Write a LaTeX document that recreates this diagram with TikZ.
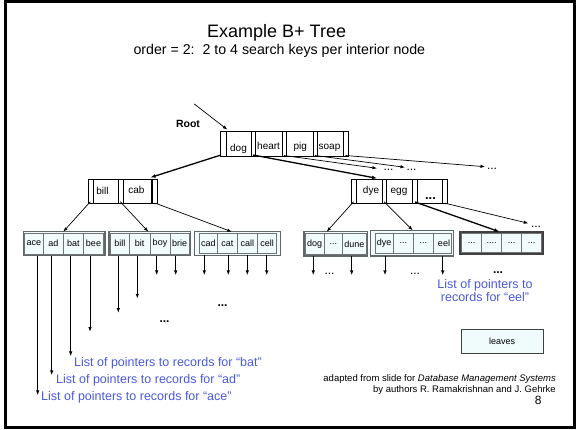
\documentclass[tikz,border=0pt]{standalone}
\usepackage{fontspec}
\setmainfont{Liberation Sans}
\usetikzlibrary{arrows.meta}

\definecolor{leaffill}{RGB}{240,252,252}
\definecolor{leafedge}{RGB}{96,104,104}
\definecolor{noteblue}{RGB}{74,88,222}

% font size in points (1pt = one unit of the picture)
\newcommand{\pxsize}[1]{\fontsize{#1}{#1}\selectfont}

% a rectangle node given by its corners: style, name, x1, y1, x2, y2, text
\newcommand{\cornerbox}[7]{%
  \node[#1, minimum width={#5-#3}, minimum height={#6-#4}] (#2)
    at ({(#3+#5)/2},{(#4+#6)/2}) {#7};}

\tikzset{
  frameline/.style={draw, line width=2.4pt},
  inner/.style={draw, line width=0.6pt, inner sep=0pt, outer sep=0pt},
  keybox/.style={draw, line width=0.6pt, inner sep=0pt, outer sep=0pt},
  keytext/.style={inner sep=0pt, anchor=base, font=\pxsize{10}},
  leafframe/.style={draw=leafedge, line width=1.3pt, fill=leaffill, inner sep=0pt, outer sep=0pt},
  leafframedark/.style={draw=black!75, line width=2pt, fill=leaffill, inner sep=0pt, outer sep=0pt},
  leafcell/.style={draw=black!55, line width=0.6pt, fill=leaffill, inner sep=0pt, outer sep=0pt, font=\pxsize{9}},
  ptr/.style={-{Latex[length=4.5pt,width=3.4pt]}, line width=0.7pt},
  thickptr/.style={-{Latex[length=5pt,width=3.8pt]}, line width=1.3pt},
  dots/.style={inner sep=0pt, anchor=base, font=\pxsize{12}},
  bolddots/.style={inner sep=0pt, anchor=base, font=\bfseries\pxsize{12}},
  note/.style={inner sep=0pt, anchor=base west, text=noteblue, font=\pxsize{12.5}},
}

\begin{document}
\begin{tikzpicture}[x=1pt, y=-1pt]
\useasboundingbox (0,0) rectangle (576,430);
\draw[frameline] (5.3,1.5) rectangle (574.6,427.6);

% titles
\node[inner sep=0pt, anchor=base west, font=\pxsize{18}] (title) at (207,37.7) {Example B+ Tree};
\node[inner sep=0pt, anchor=base west, font=\pxsize{14.2}] (subtitle) at (133.3,55)
  {order = 2:\ \ 2 to 4 search keys per interior node};

% root node
\node[inner sep=0pt, anchor=base, font=\bfseries\pxsize{10.5}] (rootlabel) at (188,128) {Root};
\cornerbox{inner}{root}{220.7}{131.7}{348}{156.7}{}
\cornerbox{keybox}{kdog}{226}{131.7}{251}{156.7}{}
\cornerbox{keybox}{kheart}{255}{131.7}{282}{156.7}{}
\cornerbox{keybox}{kpig}{286}{131.7}{313}{156.7}{}
\cornerbox{keybox}{ksoap}{317}{131.7}{343}{156.7}{}
\node[keytext] (tdog) at (238.5,151.5) {dog};
\node[keytext] (theart) at (268.6,150) {heart};
\node[keytext] (tpig) at (300.3,150) {pig};
\node[keytext] (tsoap) at (329.5,150) {soap};

% interior node bill | cab
\cornerbox{inner}{nbill}{88.3}{179}{157}{203}{}
\cornerbox{keybox}{kbill}{93}{179}{118}{203}{}
\cornerbox{keybox}{kcab}{123}{179}{152}{203}{}
\draw[line width=1.2pt] (kcab.north east) -- (kcab.south east);
\node[keytext] (tbill) at (102.5,195) {bill};
\node[keytext] (tcab) at (136.5,193.5) {cab};

% interior node dye | egg | ...
\cornerbox{inner}{ndye}{351.7}{179.3}{447.3}{203.3}{}
\cornerbox{keybox}{kdye}{356.7}{179.3}{382.7}{203.3}{}
\cornerbox{keybox}{kegg}{386.7}{179.3}{412.7}{203.3}{}
\cornerbox{keybox}{kmore}{417.3}{179.3}{442.7}{203.3}{}
\node[keytext] (tdye) at (371,193.5) {dye};
\node[keytext] (tegg) at (399,194) {egg};
\node[inner sep=0pt, anchor=base, font=\bfseries\pxsize{13}] (tmore) at (430.5,200) {...};

% leaves
\cornerbox{leafframe}{leafA}{23.3}{231.7}{105}{255.7}{}
\cornerbox{leafcell}{lace}{24.6}{232.9}{43.3}{254.3}{ace}
\cornerbox{leafcell}{lad}{43.3}{232.9}{63.3}{254.3}{ad}
\cornerbox{leafcell}{lbat}{63.3}{232.9}{83.3}{254.3}{bat}
\cornerbox{leafcell}{lbee}{83.3}{232.9}{103.7}{254.3}{bee}

\cornerbox{leafframe}{leafB}{109}{231.7}{190.7}{255.7}{}
\cornerbox{leafcell}{lbill}{110.3}{232.9}{129.3}{254.3}{bill}
\cornerbox{leafcell}{lbit}{129.3}{232.9}{150}{254.3}{bit}
\cornerbox{leafcell}{lboy}{150}{232.9}{170}{254.3}{boy}
\cornerbox{leafcell}{lbrie}{170}{232.9}{189.4}{254.3}{brie}

\cornerbox{leafframe}{leafC}{194.8}{231.7}{280.6}{255.3}{}
\cornerbox{leafcell}{lcad}{199.3}{233}{217.3}{253.8}{cad}
\cornerbox{leafcell}{lcat}{217.3}{233}{237.3}{253.8}{cat}
\cornerbox{leafcell}{lcall}{237.3}{233}{257.3}{253.8}{call}
\cornerbox{leafcell}{lcell}{257.3}{233}{276.7}{253.8}{cell}

\cornerbox{leafframe}{leafD}{304}{231.7}{367.3}{256}{}
\cornerbox{leafcell}{ldog}{305.3}{233}{324}{254.6}{dog}
\cornerbox{leafcell}{ldmid}{324}{233}{342.7}{254.6}{...}
\cornerbox{leafcell}{ldune}{342.7}{233}{366}{254.6}{dune}

\cornerbox{leafframe}{leafE}{370.7}{230.3}{453.3}{256}{}
\cornerbox{leafcell}{ldye}{375}{233.3}{393.3}{253.3}{\raisebox{2.5pt}{dye}}
\cornerbox{leafcell}{lemidA}{393.3}{233.3}{413.3}{253.3}{...}
\cornerbox{leafcell}{lemidB}{413.3}{233.3}{433.3}{253.3}{...}
\cornerbox{leafcell}{leel}{433.3}{233.3}{451.7}{253.3}{\hspace{3pt}eel}

\cornerbox{leafframedark}{leafF}{460.3}{231.7}{543}{254}{}
\cornerbox{leafcell}{lfA}{461.7}{232.9}{481.7}{252.8}{...}
\cornerbox{leafcell}{lfB}{481.7}{232.9}{501.7}{252.8}{....}
\cornerbox{leafcell}{lfC}{501.7}{232.9}{521.7}{252.8}{...}
\cornerbox{leafcell}{lfD}{521.7}{232.9}{541.7}{252.8}{...}

% pointer into the root
\coordinate (rootfrom) at (194.3,104);
\coordinate (rootto) at (227.3,129.6);
\draw[ptr] (rootfrom) -- (rootto);

% root slots to children
\coordinate (rs0) at (221,155);
\coordinate (rs1) at (253,155);
\coordinate (rs2) at (284,155.5);
\coordinate (rs3) at (315,155.5);
\coordinate (rs4) at (345.5,155.5);
\coordinate (tobill) at (150.5,177.5);
\coordinate (todye) at (377,178.3);
\coordinate (farA) at (377,168.3);
\coordinate (farB) at (405,167.3);
\coordinate (farC) at (485,166.7);
\draw[thickptr] (rs0) -- (tobill);
\draw[thickptr] (rs1) -- (todye);
\draw[ptr] (rs2) -- (farA);
\draw[ptr] (rs3) -- (farB);
\draw[ptr] (rs4) -- (farC);
\node[dots] (dA) at (388.5,171) {...};
\node[dots] (dB) at (411.5,171) {...};
\node[dots] (dC) at (492,170) {...};

% bill | cab to leaves
\coordinate (bs0) at (90.3,201.7);
\coordinate (bs1) at (120.3,201.7);
\coordinate (bs2) at (156.2,203.5);
\draw[ptr] (bs0) -- (leafA.north -| 63.3,0);
\draw[ptr] (bs1) -- (leafB.north -| 148.3,0);
\draw[ptr] (bs2) -- (leafC.north -| 231.7,0);

% dye | egg | ... to leaves
\coordinate (ds0) at (353.6,201.7);
\coordinate (ds1) at (384,201.7);
\coordinate (ds2) at (415,202);
\coordinate (ds3) at (446.3,203.5);
\coordinate (dfar) at (528.3,223.3);
\draw[ptr] (ds0) -- (leafD.north -| 326.7,0);
\draw[ptr] (ds1) -- (leafE.north -| 412.7,0);
\draw[thickptr] (ds2) -- (leafF.north -| 499.3,0);
\draw[ptr] (ds3) -- (dfar);
\node[dots] (dD) at (536,228) {...};

% record pointers out of the leaves
\coordinate (pace) at (37.7,395);
\coordinate (pad) at (51.7,375);
\coordinate (pbat) at (70.7,356);
\coordinate (pbee) at (90,331.7);
\draw[ptr] (leafA.south -| pace) -- (pace);
\draw[ptr] (leafA.south -| pad) -- (pad);
\draw[ptr] (leafA.south -| pbat) -- (pbat);
\draw[ptr] (leafA.south -| pbee) -- (pbee);

\coordinate (pbill) at (118.3,312.7);
\coordinate (pbit) at (137.3,298.3);
\coordinate (pboy) at (156.7,275);
\coordinate (pbrie) at (175.7,275);
\draw[ptr] (leafB.south -| pbill) -- (pbill);
\draw[ptr] (leafB.south -| pbit) -- (pbit);
\draw[ptr] (leafB.south -| pboy) -- (pboy);
\draw[ptr] (leafB.south -| pbrie) -- (pbrie);

\coordinate (pcad) at (204.3,275);
\coordinate (pcat) at (228.3,275);
\coordinate (pcall) at (247.3,275);
\coordinate (pcell) at (266.7,275);
\draw[ptr] (leafC.south -| pcad) -- (pcad);
\draw[ptr] (leafC.south -| pcat) -- (pcat);
\draw[ptr] (leafC.south -| pcall) -- (pcall);
\draw[ptr] (leafC.south -| pcell) -- (pcell);

\coordinate (pdog) at (313.3,275);
\coordinate (pdune) at (351.7,275);
\coordinate (pdye) at (385,275);
\coordinate (peel) at (442.7,275);
\draw[ptr] (leafD.south -| pdog) -- (pdog);
\draw[ptr] (leafD.south -| pdune) -- (pdune);
\draw[ptr] (leafE.south -| pdye) -- (pdye);
\draw[ptr] (leafE.south -| peel) -- (peel);

\node[dots] (dE) at (329.5,275) {...};
\node[dots] (dF) at (415,275) {...};
\node[bolddots] (dG) at (498,274) {...};
\node[bolddots] (dH) at (222.5,307) {...};
\node[bolddots] (dI) at (164.5,323) {...};

% notes on the record lists
\node[note] (nbat) at (74,366.5) {List of pointers to records for “bat”};
\node[note] (nad) at (56,383.2) {List of pointers to records for “ad”};
\node[note] (nace) at (41,400.5) {List of pointers to records for “ace”};
\node[note, anchor=base] (neelA) at (485,288.3) {List of pointers to};
\node[note, anchor=base] (neelB) at (485,301.6) {records for “eel”};

% legend
\cornerbox{draw=black!75, line width=0.9pt, fill=leaffill, font=\pxsize{9}}{legend}{461}{329}{543.3}{353.3}{leaves}

% credits
\node[inner sep=0pt, anchor=base east, font=\pxsize{9.5}] (creditA) at (556,381.8)
  {adapted from slide for \textit{Database Management Systems}};
\node[inner sep=0pt, anchor=base east, font=\pxsize{9.5}] (creditB) at (556,392.8)
  {by authors R. Ramakrishnan and J. Gehrke};
\node[inner sep=0pt, anchor=base, font=\pxsize{12}] (pageno) at (538.3,405) {8};
\end{tikzpicture}
\end{document}
